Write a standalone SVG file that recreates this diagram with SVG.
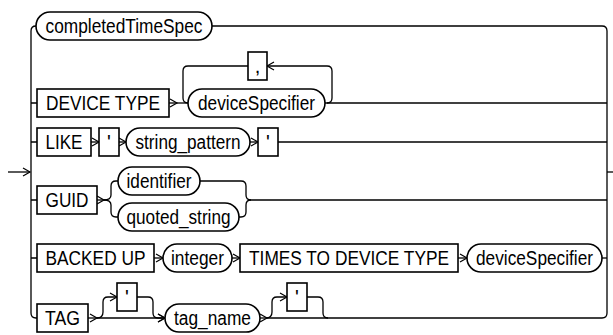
<svg xmlns="http://www.w3.org/2000/svg" width="613" height="335" viewBox="0 0 613 335">
<style>
.b{fill:#fff;stroke:#000;stroke-width:1.6}
.t{font-family:"Liberation Sans",Arial,sans-serif;font-size:20px;fill:#000;text-anchor:middle}
.c{fill:none;stroke:#000;stroke-width:1.3}
.a{fill:none;stroke:#000;stroke-width:1.3;marker-end:url(#ah)}
</style>
<defs>
<marker id="ah" markerWidth="8" markerHeight="9" refX="7" refY="4" orient="auto" markerUnits="userSpaceOnUse" overflow="visible">
<path d="M0,0 L7,4 L0,8" fill="none" stroke="#000" stroke-width="1.2"/>
</marker>
</defs>
<rect width="613" height="335" fill="#fff"/>
<g id="connectors">
<path class="a" d="M8,172 L30,172"/>
<path class="c" d="M36,26 Q31,26 31,31 L31,313 Q31,318 36,318 L37,318"/>
<path class="c" d="M212,26 L602,26 Q607,26 607,31 L607,313 Q607,318 602,318"/>
<path class="c" d="M607,172 L613,172"/>
<path class="c" d="M31,103 L37,103 M31,142 L37,142 M31,200 L37,200 M31,258 L37,258"/>
<!-- row 2 -->
<path class="a" d="M169,103 L177,103"/>
<path class="c" d="M177,103 L188,103"/>
<path class="c" d="M325,103 L607,103"/>
<path class="a" d="M327,103 Q332,103 332,98 L332,71 Q332,66 327,66 L267,66"/>
<path class="c" d="M248,66 L188,66 Q183,66 183,71 L183,98 Q183,103 188,103"/>
<!-- row 3 -->
<path class="a" d="M91,142 L99,142"/>
<path class="a" d="M119,142 L126,142"/>
<path class="a" d="M250,142 L258,142"/>
<path class="c" d="M278,142 L607,142"/>
<!-- row 4 -->
<path class="a" d="M97,200 L104,200"/>
<path class="c" d="M104,200 Q111,200 111,195 L111,186 Q111,181 116,181 L118,181"/>
<path class="c" d="M104,200 Q111,200 111,205 L111,212 Q111,217 116,217 L118,217"/>
<path class="c" d="M200,181 L241,181 Q246,181 246,186 L246,195 Q246,200 251,200 L607,200"/>
<path class="c" d="M239,217 L241,217 Q246,217 246,212 L246,205 Q246,200 251,200"/>
<!-- row 5 -->
<path class="a" d="M154,258 L163,258"/>
<path class="a" d="M232,258 L240,258"/>
<path class="a" d="M458,258 L467,258"/>
<path class="c" d="M602,258 L607,258"/>
<!-- row 6 -->
<path class="a" d="M88,318 L97,318"/>
<path class="a" d="M97,318 L165,318"/>
<path class="a" d="M97,318 Q103,318 103,312 L103,302 Q103,297 108,297 L117,297"/>
<path class="a" d="M137,297 L148,297 Q153,297 153,302 L153,313 Q153,318 158,318 L165,318"/>
<path class="a" d="M260,318 L267,318"/>
<path class="c" d="M267,318 L602,318"/>
<path class="a" d="M266,318 Q272,318 272,312 L272,302 Q272,297 277,297 L287,297"/>
<path class="c" d="M307,297 L318,297 Q323,297 323,302 L323,313 Q323,318 328,318"/>
</g>
<g id="n-completed"><rect class="b" x="36" y="12" width="176" height="28" rx="14"/><text class="t" x="124" y="33" textLength="157" lengthAdjust="spacingAndGlyphs">completedTimeSpec</text></g>
<g id="n-devicetype"><rect class="b" x="37" y="89" width="132" height="28"/><text class="t" x="103" y="110" textLength="114" lengthAdjust="spacingAndGlyphs">DEVICE TYPE</text></g>
<g id="n-comma"><rect class="b" x="248" y="52" width="19" height="28"/><text class="t" x="257.5" y="73">,</text></g>
<g id="n-devspec1"><rect class="b" x="188" y="89" width="137" height="28" rx="14"/><text class="t" x="256.5" y="110" textLength="117" lengthAdjust="spacingAndGlyphs">deviceSpecifier</text></g>
<g id="n-like"><rect class="b" x="37" y="128" width="54" height="28"/><text class="t" x="64" y="149" textLength="37" lengthAdjust="spacingAndGlyphs">LIKE</text></g>
<g id="n-q1"><rect class="b" x="99" y="128" width="20" height="28"/><text class="t" x="109" y="149">'</text></g>
<g id="n-strpat"><rect class="b" x="126" y="128" width="124" height="28" rx="14"/><text class="t" x="188" y="149" textLength="105" lengthAdjust="spacingAndGlyphs">string_pattern</text></g>
<g id="n-q2"><rect class="b" x="258" y="128" width="20" height="28"/><text class="t" x="268" y="149">'</text></g>
<g id="n-guid"><rect class="b" x="37" y="186" width="60" height="28"/><text class="t" x="67" y="207" textLength="43" lengthAdjust="spacingAndGlyphs">GUID</text></g>
<g id="n-identifier"><rect class="b" x="118" y="167" width="82" height="28" rx="14"/><text class="t" x="159" y="188" textLength="65" lengthAdjust="spacingAndGlyphs">identifier</text></g>
<g id="n-quoted"><rect class="b" x="118" y="203" width="121" height="28" rx="14"/><text class="t" x="178.5" y="224" textLength="104" lengthAdjust="spacingAndGlyphs">quoted_string</text></g>
<g id="n-backed"><rect class="b" x="37" y="244" width="117" height="28"/><text class="t" x="95.5" y="265" textLength="100" lengthAdjust="spacingAndGlyphs">BACKED UP</text></g>
<g id="n-integer"><rect class="b" x="163" y="244" width="69" height="28" rx="14"/><text class="t" x="197.5" y="265" textLength="53" lengthAdjust="spacingAndGlyphs">integer</text></g>
<g id="n-times"><rect class="b" x="240" y="244" width="218" height="28"/><text class="t" x="349" y="265" textLength="200" lengthAdjust="spacingAndGlyphs">TIMES TO DEVICE TYPE</text></g>
<g id="n-devspec2"><rect class="b" x="467" y="244" width="135" height="28" rx="14"/><text class="t" x="534.5" y="265" textLength="117" lengthAdjust="spacingAndGlyphs">deviceSpecifier</text></g>
<g id="n-tag"><rect class="b" x="37" y="304" width="51" height="28"/><text class="t" x="62.5" y="325" textLength="35" lengthAdjust="spacingAndGlyphs">TAG</text></g>
<g id="n-q3"><rect class="b" x="117" y="283" width="20" height="28"/><text class="t" x="127" y="304">'</text></g>
<g id="n-tagname"><rect class="b" x="165" y="304" width="95" height="28" rx="14"/><text class="t" x="212.5" y="325" textLength="77" lengthAdjust="spacingAndGlyphs">tag_name</text></g>
<g id="n-q4"><rect class="b" x="287" y="283" width="20" height="28"/><text class="t" x="297" y="304">'</text></g>
</svg>
